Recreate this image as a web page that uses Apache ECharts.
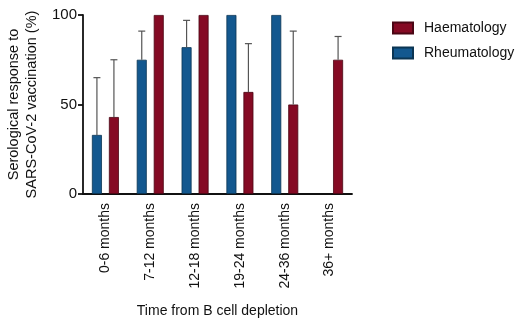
<!DOCTYPE html>
<html>
<head>
<meta charset="utf-8">
<script src="https://cdn.jsdelivr.net/npm/echarts@6/dist/echarts.min.js"></script>
<style>
  html, body { margin: 0; padding: 0; background: #fff; }
  #chart { width: 520px; height: 329px; }
</style>
</head>
<body>
<div id="chart"></div>
<script>
// categories and values
const categories = ['0-6 months', '7-12 months', '12-18 months', '19-24 months', '24-36 months', '36+ months'];
const haemValues = [43, 100, 100, 57, 50, 75];
const haemUpper = [75, null, null, 84, 91, 88];
const rheumValues = [33, 75, 82, 100, 100, null];
const rheumUpper = [65, 91, 97, null, null, null];
const yTicks = [0, 50, 100];

const chart = echarts.init(document.getElementById('chart'));

// error bar data: [category index, bar value, upper value]
function errData(values, upper) {
  const out = [];
  values.forEach((v, i) => {
    if (v != null && upper[i] != null) out.push([i, v, upper[i]]);
  });
  return out;
}

function errRenderer(offset) {
  return function (params, api) {
    const base = api.coord([api.value(0), api.value(1)]);
    const top = api.coord([api.value(0), api.value(2)]);
    const x = base[0] + offset;
    const style = { stroke: '#555', lineWidth: 1.2 };
    return {
      type: 'group',
      children: [
        { type: 'line', shape: { x1: x, y1: base[1], x2: x, y2: top[1] }, style: style },
        { type: 'line', shape: { x1: x - 3.5, y1: top[1], x2: x + 3.5, y2: top[1] }, style: style }
      ]
    };
  };
}

const option = {
  animation: false,
  grid: { left: 83, top: 15, right: 168, bottom: 135, outerBoundsMode: 'none' },
  legend: {
    orient: 'vertical',
    left: 392,
    top: 21,
    padding: 0,
    itemWidth: 20,
    itemHeight: 11,
    itemGap: 11,
    icon: 'rect',
    data: ['Haematology', 'Rheumatology'],
    textStyle: { fontFamily: 'Liberation Sans', fontSize: 14, color: '#111', padding: [0, 0, 0, 6] }
  },
  xAxis: {
    type: 'category',
    data: categories,
    name: 'Time from B cell depletion',
    nameLocation: 'middle',
    nameGap: 110,
    nameTextStyle: { fontFamily: 'Liberation Sans', fontSize: 14, color: '#111' },
    axisLine: { lineStyle: { color: '#111', width: 1.8 } },
    axisTick: { alignWithLabel: true, length: 6, lineStyle: { color: '#111', width: 1.8 } },
    axisLabel: { rotate: 90, margin: 9, fontFamily: 'Liberation Sans', fontSize: 14, color: '#111' }
  },
  yAxis: {
    type: 'value',
    min: 0,
    max: 100,
    interval: 50,
    name: 'Serological response to\nSARS-CoV-2 vaccination (%)',
    nameLocation: 'middle',
    nameRotate: 90,
    nameGap: 35,
    nameTextStyle: { fontFamily: 'Liberation Sans', fontSize: 14.5, color: '#111', lineHeight: 18 },
    splitLine: { show: false },
    axisLine: { show: true, lineStyle: { color: '#111', width: 1.8 } },
    axisTick: { show: true, length: 5, lineStyle: { color: '#111', width: 1.8 } },
    axisLabel: {
      fontFamily: 'Liberation Sans', fontSize: 15, color: '#111', margin: 6,
      formatter: v => (yTicks.indexOf(v) >= 0 ? String(v) : '')
    }
  },
  series: [
    {
      name: 'Rheumatology',
      type: 'bar',
      data: rheumValues,
      barWidth: 10,
      barGap: '70%',
      itemStyle: { color: '#13588f', borderColor: '#0b3553', borderWidth: 0.8 },
      z: 2
    },
    {
      name: 'Haematology',
      type: 'bar',
      data: haemValues,
      barWidth: 10,
      barGap: '70%',
      itemStyle: { color: '#850a24', borderColor: '#4a0614', borderWidth: 0.8 },
      z: 2
    },
    {
      type: 'custom',
      renderItem: errRenderer(-8.5),
      data: errData(rheumValues, rheumUpper),
      encode: { x: 0, y: [1, 2] },
      z: 3,
      silent: true
    },
    {
      type: 'custom',
      renderItem: errRenderer(8.5),
      data: errData(haemValues, haemUpper),
      encode: { x: 0, y: [1, 2] },
      z: 3,
      silent: true
    }
  ]
};

chart.setOption(option);
</script>
</body>
</html>
